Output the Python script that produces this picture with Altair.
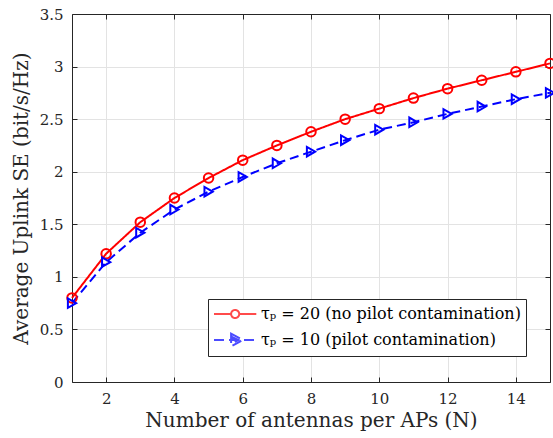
import altair as alt
import pandas as pd

N = list(range(1, 16))
se_tau20 = [0.80, 1.22, 1.52, 1.75, 1.94, 2.11, 2.25, 2.38, 2.50, 2.60, 2.70, 2.79, 2.87, 2.95, 3.03]
se_tau10 = [0.75, 1.14, 1.42, 1.64, 1.81, 1.95, 2.08, 2.19, 2.30, 2.40, 2.47, 2.55, 2.62, 2.69, 2.75]
series = ["τₚ = 20 (no pilot contamination)", "τₚ = 10 (pilot contamination)"]
colors = ["#ff0000", "#0000ff"]
x_ticks = [2, 4, 6, 8, 10, 12, 14]
y_ticks = [0, 0.5, 1, 1.5, 2, 2.5, 3, 3.5]

rows = []
for n, a, b in zip(N, se_tau20, se_tau10):
    rows.append({"N": n, "SE": a, "series": series[0]})
    rows.append({"N": n, "SE": b, "series": series[1]})
df = pd.DataFrame(rows)

W, H = 478, 368
FONT = "DejaVu Serif"
AX = "#262626"
TXT = "#262626"

xs = alt.Scale(domain=[1, 15], nice=False, zero=False)
ys = alt.Scale(domain=[0, 3.5], nice=False)
col = alt.Scale(domain=series, range=colors)
dash = alt.Scale(domain=series, range=[[1, 0], [9, 5]])

# legend symbols: line with marker (unit = sqrt(symbolSize)/2 px)
circle_path = "M-1,0H0.9A0.45,0.45 0 1,1 1.8,0A0.45,0.45 0 1,1 0.9,0M1.8,0H3.7"
tri_path = "M-1,0H3.7M0.9,-0.7L2.2,0L0.9,0.7ZM1.1,-0.3L1.7,0L1.1,0.3Z"

base = alt.Chart(df)

lines = base.mark_line(strokeWidth=2).encode(
    x=alt.X("N:Q", scale=xs, axis=alt.Axis(
        values=x_ticks, title="Number of antennas per APs (N)", grid=True,
        ticks=False, tickSize=0, labelPadding=9, titlePadding=4, domain=True,
        labelFont=FONT, titleFont=FONT, labelFontSize=15, titleFontSize=20)),
    y=alt.Y("SE:Q", scale=ys, axis=alt.Axis(
        values=y_ticks, format=".1~f", title="Average Uplink SE (bit/s/Hz)", grid=True,
        ticks=False, tickSize=0, labelPadding=9, titlePadding=8, domain=True,
        labelFont=FONT, titleFont=FONT, labelFontSize=15, titleFontSize=20)),
    color=alt.Color("series:N", scale=col, legend=None),
    strokeDash=alt.StrokeDash("series:N", scale=dash, legend=None),
    detail="series:N",
)

points = base.mark_point(filled=False, strokeWidth=2, size=90, opacity=1).encode(
    x=alt.X("N:Q", scale=xs, axis=alt.Axis(
        orient="top", offset=-H, values=x_ticks, labels=False, title=None,
        grid=False, domain=False, ticks=True, tickSize=5, tickColor=AX)),
    y=alt.Y("SE:Q", scale=ys, axis=alt.Axis(
        orient="right", offset=-W, values=y_ticks, labels=False, title=None,
        grid=False, domain=False, ticks=True, tickSize=5, tickColor=AX)),
    color=alt.Color("series:N", scale=col, legend=None),
    shape=alt.Shape("series:N", scale=alt.Scale(domain=series, range=["circle", "triangle-right"]), legend=None),
)

legend_layer = base.transform_filter("false").mark_point(filled=False, strokeWidth=2, size=324).encode(
    x=alt.X("N:Q", scale=xs, axis=alt.Axis(
        orient="bottom", offset=-H, values=x_ticks, labels=False, title=None,
        grid=False, domain=True, domainColor=AX, ticks=True, tickSize=5, tickColor=AX)),
    y=alt.Y("SE:Q", scale=ys, axis=alt.Axis(
        orient="left", offset=-W, values=y_ticks, labels=False, title=None,
        grid=False, domain=True, domainColor=AX, ticks=True, tickSize=5, tickColor=AX)),
    color=alt.Color("series:N", scale=alt.Scale(domain=series, range=colors),
                    legend=alt.Legend(title=None, labelFont=FONT)),
    shape=alt.Shape("series:N", scale=alt.Scale(domain=series, range=[circle_path, tri_path]),
                    legend=alt.Legend(title=None, labelFont=FONT)),
    strokeDash=alt.StrokeDash("series:N", scale=alt.Scale(domain=series, range=[[1, 0], [10, 5]]),
                              legend=alt.Legend(title=None, labelFont=FONT)),
)

chart = alt.layer(lines, points, legend_layer).resolve_scale(
    color="independent", shape="independent", strokeDash="independent"
).resolve_axis(
    x="independent", y="independent"
).properties(
    width=W, height=H,
    autosize=alt.AutoSizeParams(type="none"),
    padding={"left": 72, "top": 14, "right": 3, "bottom": 56},
    background="white",
).configure_view(
    stroke=None
).configure_axis(
    labelFont=FONT, titleFont=FONT, labelFontSize=15, titleFontSize=20,
    labelColor=TXT, titleColor=TXT, titleFontWeight="normal",
    gridColor="#e3e3e3", gridWidth=1, domainColor=AX, domainWidth=1,
).configure_legend(
    orient="none", legendX=136, legendY=285,
    fillColor="white", strokeColor=AX, strokeWidth=1, padding=5,
    labelFont=FONT, labelFontSize=16, labelColor="#000000", labelLimit=0,
    symbolSize=324, symbolStrokeWidth=2, labelOffset=28, rowPadding=6,
)

chart.save("out.html", embed_options={"renderer": "svg", "actions": False})
